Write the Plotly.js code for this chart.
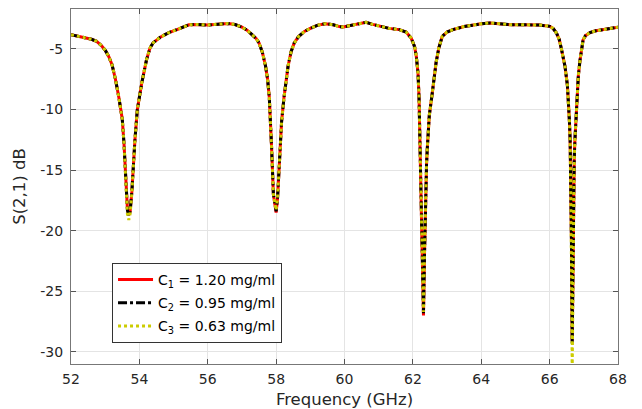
<!DOCTYPE html>
<html>
<head>
<meta charset="utf-8">
<script src="https://cdn.plot.ly/plotly-3.0.1.min.js"></script>
<style>
html, body { margin: 0; padding: 0; background: #fff; }
#chart { width: 642px; height: 409px; }
</style>
</head>
<body>
<div id="chart"></div>
<script>
// Frequency (GHz)
const freq = [
  52.0, 52.2, 52.4, 52.6, 52.75, 52.9, 53.0, 53.1, 53.2, 53.3,
  53.4, 53.5, 53.55, 53.6, 53.65, 53.69, 53.73, 53.78, 53.83, 53.87,
  53.94, 54.07, 54.21, 54.31, 54.4, 54.5, 54.6, 54.75, 54.9, 55.1,
  55.3, 55.45, 55.7, 56.0, 56.3, 56.6, 56.8, 57.0, 57.15, 57.3,
  57.42, 57.5, 57.6, 57.69, 57.75, 57.8, 57.84, 57.87, 57.92, 57.97,
  58.0, 58.04, 58.08, 58.11, 58.16, 58.23, 58.29, 58.35, 58.44, 58.53,
  58.65, 58.83, 59.0, 59.2, 59.43, 59.67, 59.85, 59.97, 60.1, 60.27,
  60.45, 60.63, 60.8, 61.0, 61.3, 61.6, 61.8, 61.95, 62.05, 62.1,
  62.15, 62.18, 62.2, 62.22, 62.25, 62.28, 62.31, 62.34, 62.37, 62.4,
  62.42, 62.48, 62.56, 62.62, 62.68, 62.76, 62.86, 63.0, 63.17, 63.5,
  63.77, 64.0, 64.25, 64.5, 64.85, 65.1, 65.43, 65.7, 66.01, 66.1,
  66.2, 66.28, 66.35, 66.45, 66.52, 66.55, 66.58, 66.6, 66.62, 66.64,
  66.66, 66.68, 66.7, 66.72, 66.74, 66.79, 66.84, 66.89, 66.94, 66.98,
  67.05, 67.18, 67.35, 67.57, 67.8, 68.0
];

// S(2,1) dB, C1 = 1.20 mg/ml
const c1 = [
  -3.82, -3.95, -4.05, -4.2, -4.37, -4.75, -5.1, -5.6, -6.3, -7.5,
  -9.0, -10.8, -12.8, -16.0, -18.2, -18.7, -18.4, -16.8, -14.3, -12.5,
  -10.0, -7.8, -5.88, -4.92, -4.5, -4.25, -4.05, -3.82, -3.6, -3.4,
  -3.15, -3.0, -2.98, -3.02, -2.95, -2.9, -2.98, -3.2, -3.45, -3.8,
  -4.15, -4.5, -5.3, -6.4, -7.5, -9.0, -11.0, -13.3, -17.0, -18.2,
  -18.5, -17.4, -15.0, -13.3, -11.0, -9.0, -7.6, -6.4, -5.2, -4.5,
  -4.0, -3.55, -3.3, -3.05, -2.91, -3.0, -3.15, -3.19, -3.1, -3.0,
  -2.85, -2.8, -2.95, -3.1, -3.3, -3.4, -3.6, -4.1, -4.8, -5.6,
  -7.0, -9.0, -11.5, -14.0, -18.0, -23.0, -27.0, -22.0, -17.0, -14.5,
  -13.3, -10.5, -8.8, -7.3, -6.1, -4.9, -3.96, -3.6, -3.4, -3.15,
  -3.0, -2.92, -2.85, -2.92, -3.0, -3.0, -3.0, -3.02, -3.13, -3.3,
  -3.68, -4.2, -5.06, -6.44, -8.0, -9.2, -11.0, -12.5, -16.0, -21.0,
  -29.1, -23.0, -17.0, -14.0, -12.5, -9.2, -7.2, -5.9, -4.9, -4.23,
  -3.9, -3.65, -3.5, -3.4, -3.3, -3.2
];

// S(2,1) dB, C2 = 0.95 mg/ml
const c2 = [
  -3.82, -3.95, -4.05, -4.2, -4.37, -4.75, -5.1, -5.6, -6.3, -7.5,
  -9.0, -10.8, -12.8, -16.0, -18.3, -18.8, -18.4, -16.8, -14.3, -12.5,
  -10.0, -7.8, -5.88, -4.92, -4.5, -4.25, -4.05, -3.82, -3.6, -3.4,
  -3.15, -3.0, -2.98, -3.02, -2.95, -2.9, -2.98, -3.2, -3.45, -3.8,
  -4.15, -4.5, -5.3, -6.4, -7.5, -9.0, -11.0, -13.3, -17.0, -18.2,
  -18.4, -17.4, -15.0, -13.3, -11.0, -9.0, -7.6, -6.4, -5.2, -4.5,
  -4.0, -3.55, -3.3, -3.05, -2.91, -3.0, -3.15, -3.19, -3.1, -3.0,
  -2.85, -2.8, -2.95, -3.1, -3.3, -3.4, -3.6, -4.1, -4.8, -5.6,
  -7.0, -9.0, -11.5, -14.0, -18.0, -23.0, -26.8, -22.0, -17.0, -14.5,
  -13.3, -10.5, -8.8, -7.3, -6.1, -4.9, -3.96, -3.6, -3.4, -3.15,
  -3.0, -2.92, -2.85, -2.92, -3.0, -3.0, -3.0, -3.02, -3.13, -3.3,
  -3.68, -4.2, -5.06, -6.44, -8.0, -9.2, -11.0, -12.5, -16.0, -21.5,
  -29.3, -23.2, -17.0, -14.0, -12.5, -9.2, -7.2, -5.9, -4.9, -4.23,
  -3.9, -3.65, -3.5, -3.4, -3.3, -3.2
];

// S(2,1) dB, C3 = 0.63 mg/ml
const c3 = [
  -3.82, -3.95, -4.05, -4.2, -4.37, -4.75, -5.1, -5.6, -6.3, -7.5,
  -9.0, -10.8, -12.8, -16.2, -18.6, -19.1, -18.6, -16.9, -14.3, -12.5,
  -10.0, -7.8, -5.88, -4.92, -4.5, -4.25, -4.05, -3.82, -3.6, -3.4,
  -3.15, -3.0, -2.98, -3.02, -2.95, -2.9, -2.98, -3.2, -3.45, -3.8,
  -4.15, -4.5, -5.3, -6.4, -7.5, -9.0, -11.0, -13.3, -17.0, -18.1,
  -18.3, -17.3, -15.0, -13.3, -11.0, -9.0, -7.6, -6.4, -5.2, -4.5,
  -4.0, -3.55, -3.3, -3.05, -2.91, -3.0, -3.15, -3.19, -3.1, -3.0,
  -2.85, -2.8, -2.95, -3.1, -3.3, -3.4, -3.6, -4.1, -4.8, -5.6,
  -7.0, -9.0, -11.6, -14.2, -18.3, -23.2, -26.7, -21.8, -16.8, -14.4,
  -13.3, -10.5, -8.8, -7.3, -6.1, -4.9, -3.96, -3.6, -3.4, -3.15,
  -3.0, -2.92, -2.85, -2.92, -3.0, -3.0, -3.0, -3.02, -3.13, -3.3,
  -3.68, -4.2, -5.06, -6.44, -8.0, -9.2, -11.0, -12.6, -16.5, -23.0,
  -31.5, -24.0, -17.2, -14.0, -12.5, -9.2, -7.2, -5.9, -4.9, -4.23,
  -3.9, -3.65, -3.5, -3.4, -3.3, -3.2
];

const seriesNames = [
  'C<sub>1</sub> = 1.20 mg/ml',
  'C<sub>2</sub> = 0.95 mg/ml',
  'C<sub>3</sub> = 0.63 mg/ml'
];

const xTicks = [52, 54, 56, 58, 60, 62, 64, 66, 68];
const yTicks = [-30, -25, -20, -15, -10, -5];

const font = 'DejaVu Sans, Verdana, sans-serif';

const traces = [
  { x: freq, y: c1, name: seriesNames[0], mode: 'lines', legendgroup: 'a',
    line: { color: 'rgb(255,0,0)', width: 3, dash: 'solid' } },
  { x: freq, y: c2, name: seriesNames[1], mode: 'lines', legendgroup: 'b',
    line: { color: 'rgb(0,0,0)', width: 3, dash: 'dashdot' } },
  { x: freq, y: c3, name: seriesNames[2], mode: 'lines', legendgroup: 'c',
    line: { color: 'rgb(204,204,0)', width: 3, dash: 'dot' } }
];

const axisCommon = {
  showline: true, linecolor: '#777', linewidth: 1, mirror: 'ticks',
  ticks: 'inside', ticklen: 5, tickcolor: '#555', tickwidth: 1,
  showgrid: true, gridcolor: '#e4e4e4', gridwidth: 1,
  zeroline: false,
  tickfont: { family: font, size: 14, color: '#262626' }
};

const layout = {
  width: 642, height: 409,
  margin: { l: 71, r: 24, t: 9, b: 45 },
  paper_bgcolor: '#fff', plot_bgcolor: '#fff',
  font: { family: font, color: '#262626' },
  showlegend: true,
  legend: {
    x: 0.075, y: 0.2845, xanchor: 'left', yanchor: 'top',
    bgcolor: '#fff', bordercolor: '#333', borderwidth: 1,
    font: { family: font, size: 14, color: '#000' },
    itemwidth: 35,
    tracegroupgap: 2
  },
  xaxis: Object.assign({}, axisCommon, {
    range: [52, 68], tickmode: 'array', tickvals: xTicks,
    ticktext: xTicks.map(String),
    ticklabelstandoff: 2,
    title: { text: 'Frequency (GHz)', font: { family: font, size: 16.5, color: '#262626' }, standoff: 8 }
  }),
  yaxis: Object.assign({}, axisCommon, {
    range: [-31, -1.7], tickmode: 'array', tickvals: yTicks,
    ticktext: yTicks.map(String),
    ticklabelstandoff: 4,
    title: { text: 'S(2,1) dB', font: { family: font, size: 16.5, color: '#262626' }, standoff: 10 }
  })
};

Plotly.newPlot('chart', traces, layout, { displayModeBar: false, staticPlot: true });
</script>
</body>
</html>
